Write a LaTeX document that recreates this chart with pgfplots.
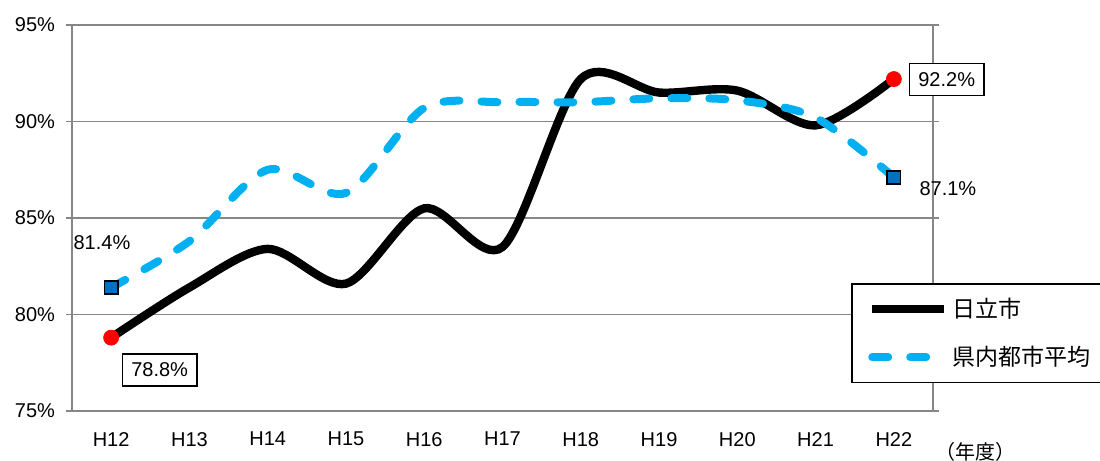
\documentclass[border=0pt]{standalone}
\usepackage{pgfplots}
\pgfplotsset{compat=1.18}
\usepackage{fontspec}
\setmainfont{Liberation Sans}
\newfontfamily\cjk{Noto Sans CJK JP}
\definecolor{cyanline}{RGB}{0,176,240}
\definecolor{sqblue}{RGB}{0,112,192}
\definecolor{axgray}{RGB}{134,134,134}
\begin{document}
\begin{tikzpicture}
\useasboundingbox (0,0) rectangle (550pt,230.5pt);
\begin{axis}[
  at={(36pt,25pt)}, anchor=south west,
  scale only axis, width=430.5pt, height=193pt,
  xmin=-0.5, xmax=10.5, ymin=75, ymax=95,
  xtick={0,...,10},
  xticklabels={H12,H13,H14,H15,H16,H17,H18,H19,H20,H21,H22},
  major x tick style={draw=none},
  extra x ticks={-0.5,0.5,...,10.5},
  extra x tick labels={},
  extra x tick style={grid=none, major tick length=4pt, tick align=outside, tick style={draw=axgray, line width=0.75pt}},
  ytick={75,80,...,95},
  yticklabel={\pgfmathprintnumber{\tick}\%},
  ymajorgrids, grid style={draw=axgray, line width=0.75pt},
  y tick style={draw=axgray, line width=0.75pt},
  major tick length=3pt, tick align=outside,
  axis line style={draw=axgray, line width=0.75pt},
  tick label style={font=\fontsize{10}{12}\selectfont},
  xticklabel style={yshift=-4pt},
  yticklabel style={xshift=-2pt},
  /pgf/number format/assume math mode=true,
  legend style={at={(0.905,0.3316)}, anchor=north west, draw=black, line width=0.8pt,
    inner xsep=8pt, inner ysep=5pt, row sep=9pt,
    font=\cjk\fontsize{11.5}{13}\selectfont, cells={anchor=west}},
  legend image code/.code={\draw[#1] (0pt,0pt) -- (36pt,0pt);},
  clip=false,
]
\addplot[black, line width=4.2pt, smooth] coordinates {
 (0,78.8) (1,81.4) (2,83.4) (3,81.6) (4,85.5) (5,83.5) (6,92.2) (7,91.5) (8,91.6) (9,89.8) (10,92.2)};
\addlegendentry{日立市}
\addplot[cyanline, line width=4pt, smooth, line cap=round, dash pattern=on 8pt off 11pt] coordinates {
 (0,81.4) (1,83.8) (2,87.5) (3,86.3) (4,90.7) (5,91.0) (6,91.0) (7,91.2) (8,91.1) (9,90.2) (10,87.1)};
\addlegendentry{県内都市平均}
\addplot[only marks, mark=*, mark size=3.75pt, mark options={draw=red, fill=red}, forget plot] coordinates {(0,78.8) (10,92.2)};
\addplot[only marks, mark=square*, mark size=3.3pt, mark options={draw=black, fill=sqblue, line width=0.8pt}, forget plot] coordinates {(0,81.4) (10,87.1)};
\node[font=\fontsize{10}{12}\selectfont] at (axis cs:-0.117,83.74) {81.4\%};
\node[draw=black, line width=0.75pt, fill=white, inner xsep=4.5pt, inner ysep=4.5pt, font=\fontsize{10}{12}\selectfont] at (axis cs:0.62,77.12) {78.8\%};
\node[draw=black, line width=0.75pt, fill=white, inner xsep=4.5pt, inner ysep=4.5pt, font=\fontsize{10}{12}\selectfont] at (axis cs:10.675,92.18) {92.2\%};
\node[font=\fontsize{10}{12}\selectfont] at (axis cs:10.69,86.54) {87.1\%};
\end{axis}
\node[font=\cjk\fontsize{10}{12}\selectfont] at (487.5pt,4.5pt) {（年度）};
\end{tikzpicture}
\end{document}
